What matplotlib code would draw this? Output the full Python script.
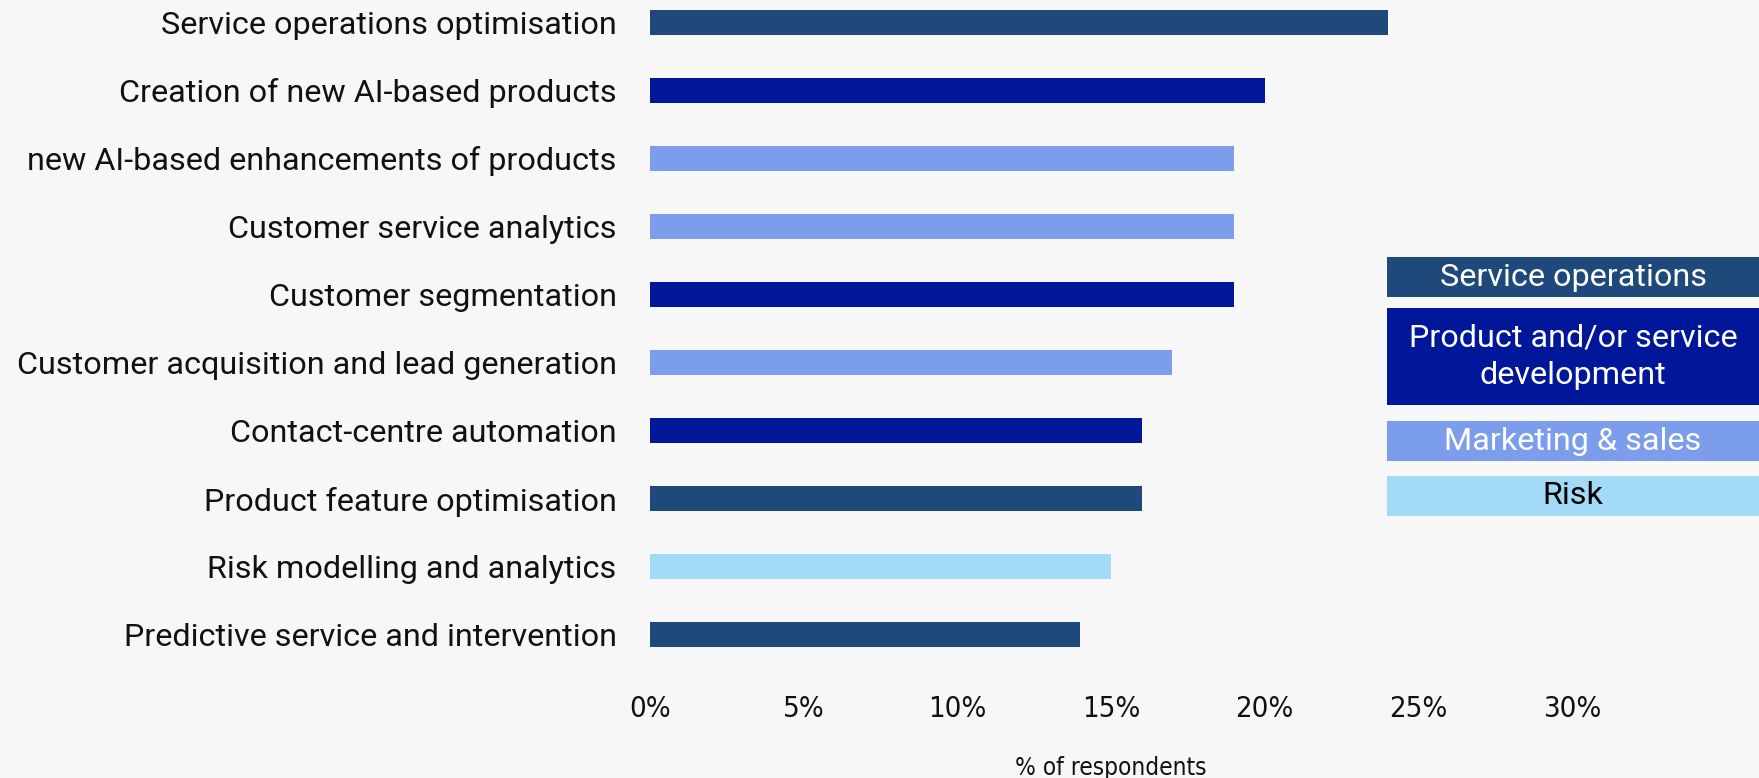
import matplotlib
matplotlib.use("Agg")
import matplotlib.pyplot as plt
from matplotlib.patches import Rectangle
from matplotlib import font_manager

# data
categories = [
    "Service operations optimisation",
    "Creation of new AI-based products",
    "new AI-based enhancements of products",
    "Customer service analytics",
    "Customer segmentation",
    "Customer acquisition and lead generation",
    "Contact-centre automation",
    "Product feature optimisation",
    "Risk modelling and analytics",
    "Predictive service and intervention",
]
values = [24, 20, 19, 19, 19, 17, 16, 16, 15, 14]
groups = ["ops", "prod", "mkt", "mkt", "prod", "mkt", "prod", "ops", "risk", "ops"]
xticks = [0, 5, 10, 15, 20, 25, 30]

colors = {"ops": "#1F497B", "prod": "#00179A", "mkt": "#7B9DEB", "risk": "#A3DAF7"}
legend_items = [
    ("ops", "Service operations", "white"),
    ("prod", "Product and/or service\ndevelopment", "white"),
    ("mkt", "Marketing & sales", "white"),
    ("risk", "Risk", "black"),
]

# pick a narrow face for the axis numbers if one is around
names = {f.name for f in font_manager.fontManager.ttflist}
narrow = "Liberation Sans Narrow" if "Liberation Sans Narrow" in names else "DejaVu Sans"

bg = "#F7F7F7"
W, H = 1759, 778
fig = plt.figure(figsize=(W / 100, H / 100), dpi=100, facecolor=bg)
# axes placed in pixel terms
ax = fig.add_axes([650 / W, 1 - 670 / H, (1572 - 650) / W, 670 / H])
ax.set_facecolor(bg)

ypos = list(range(len(categories)))
ax.barh(ypos, values, height=0.37, color=[colors[g] for g in groups])
ax.set_xlim(0, 30)
ax.set_ylim(9.52, -0.33)
ax.set_yticks(ypos)
ax.set_yticklabels(categories, fontsize=23.3, family="Roboto", color="#111111")
ax.set_xticks(xticks)
ax.set_xticklabels([f"{t}%" for t in xticks], fontsize=21, family=narrow,
                   stretch="condensed", color="#111111")
ax.tick_params(axis="y", length=0, pad=24)
ax.tick_params(axis="x", length=0, pad=18)
ax.set_xlabel("% of respondents", fontsize=17.5, family=narrow, stretch="condensed",
              color="#111111", labelpad=24)
for s in ax.spines.values():
    s.set_visible(False)

# legend boxes drawn in figure pixel coords
boxes = [(257, 297), (308, 405), (421, 461), (476, 516)]
x0 = 1387
for (key, label, tc), (top, bot) in zip(legend_items, boxes):
    fig.add_artist(Rectangle((x0 / W, 1 - bot / H), (W - x0) / W, (bot - top) / H,
                             transform=fig.transFigure, color=colors[key], lw=0))
    fig.text((x0 + W) / 2 / W, 1 - (top + bot) / 2 / H, label, ha="center",
             va="center", fontsize=23.3, family="Roboto", color=tc,
             linespacing=1.35)

fig.savefig("out.png", dpi=100, facecolor=bg)
